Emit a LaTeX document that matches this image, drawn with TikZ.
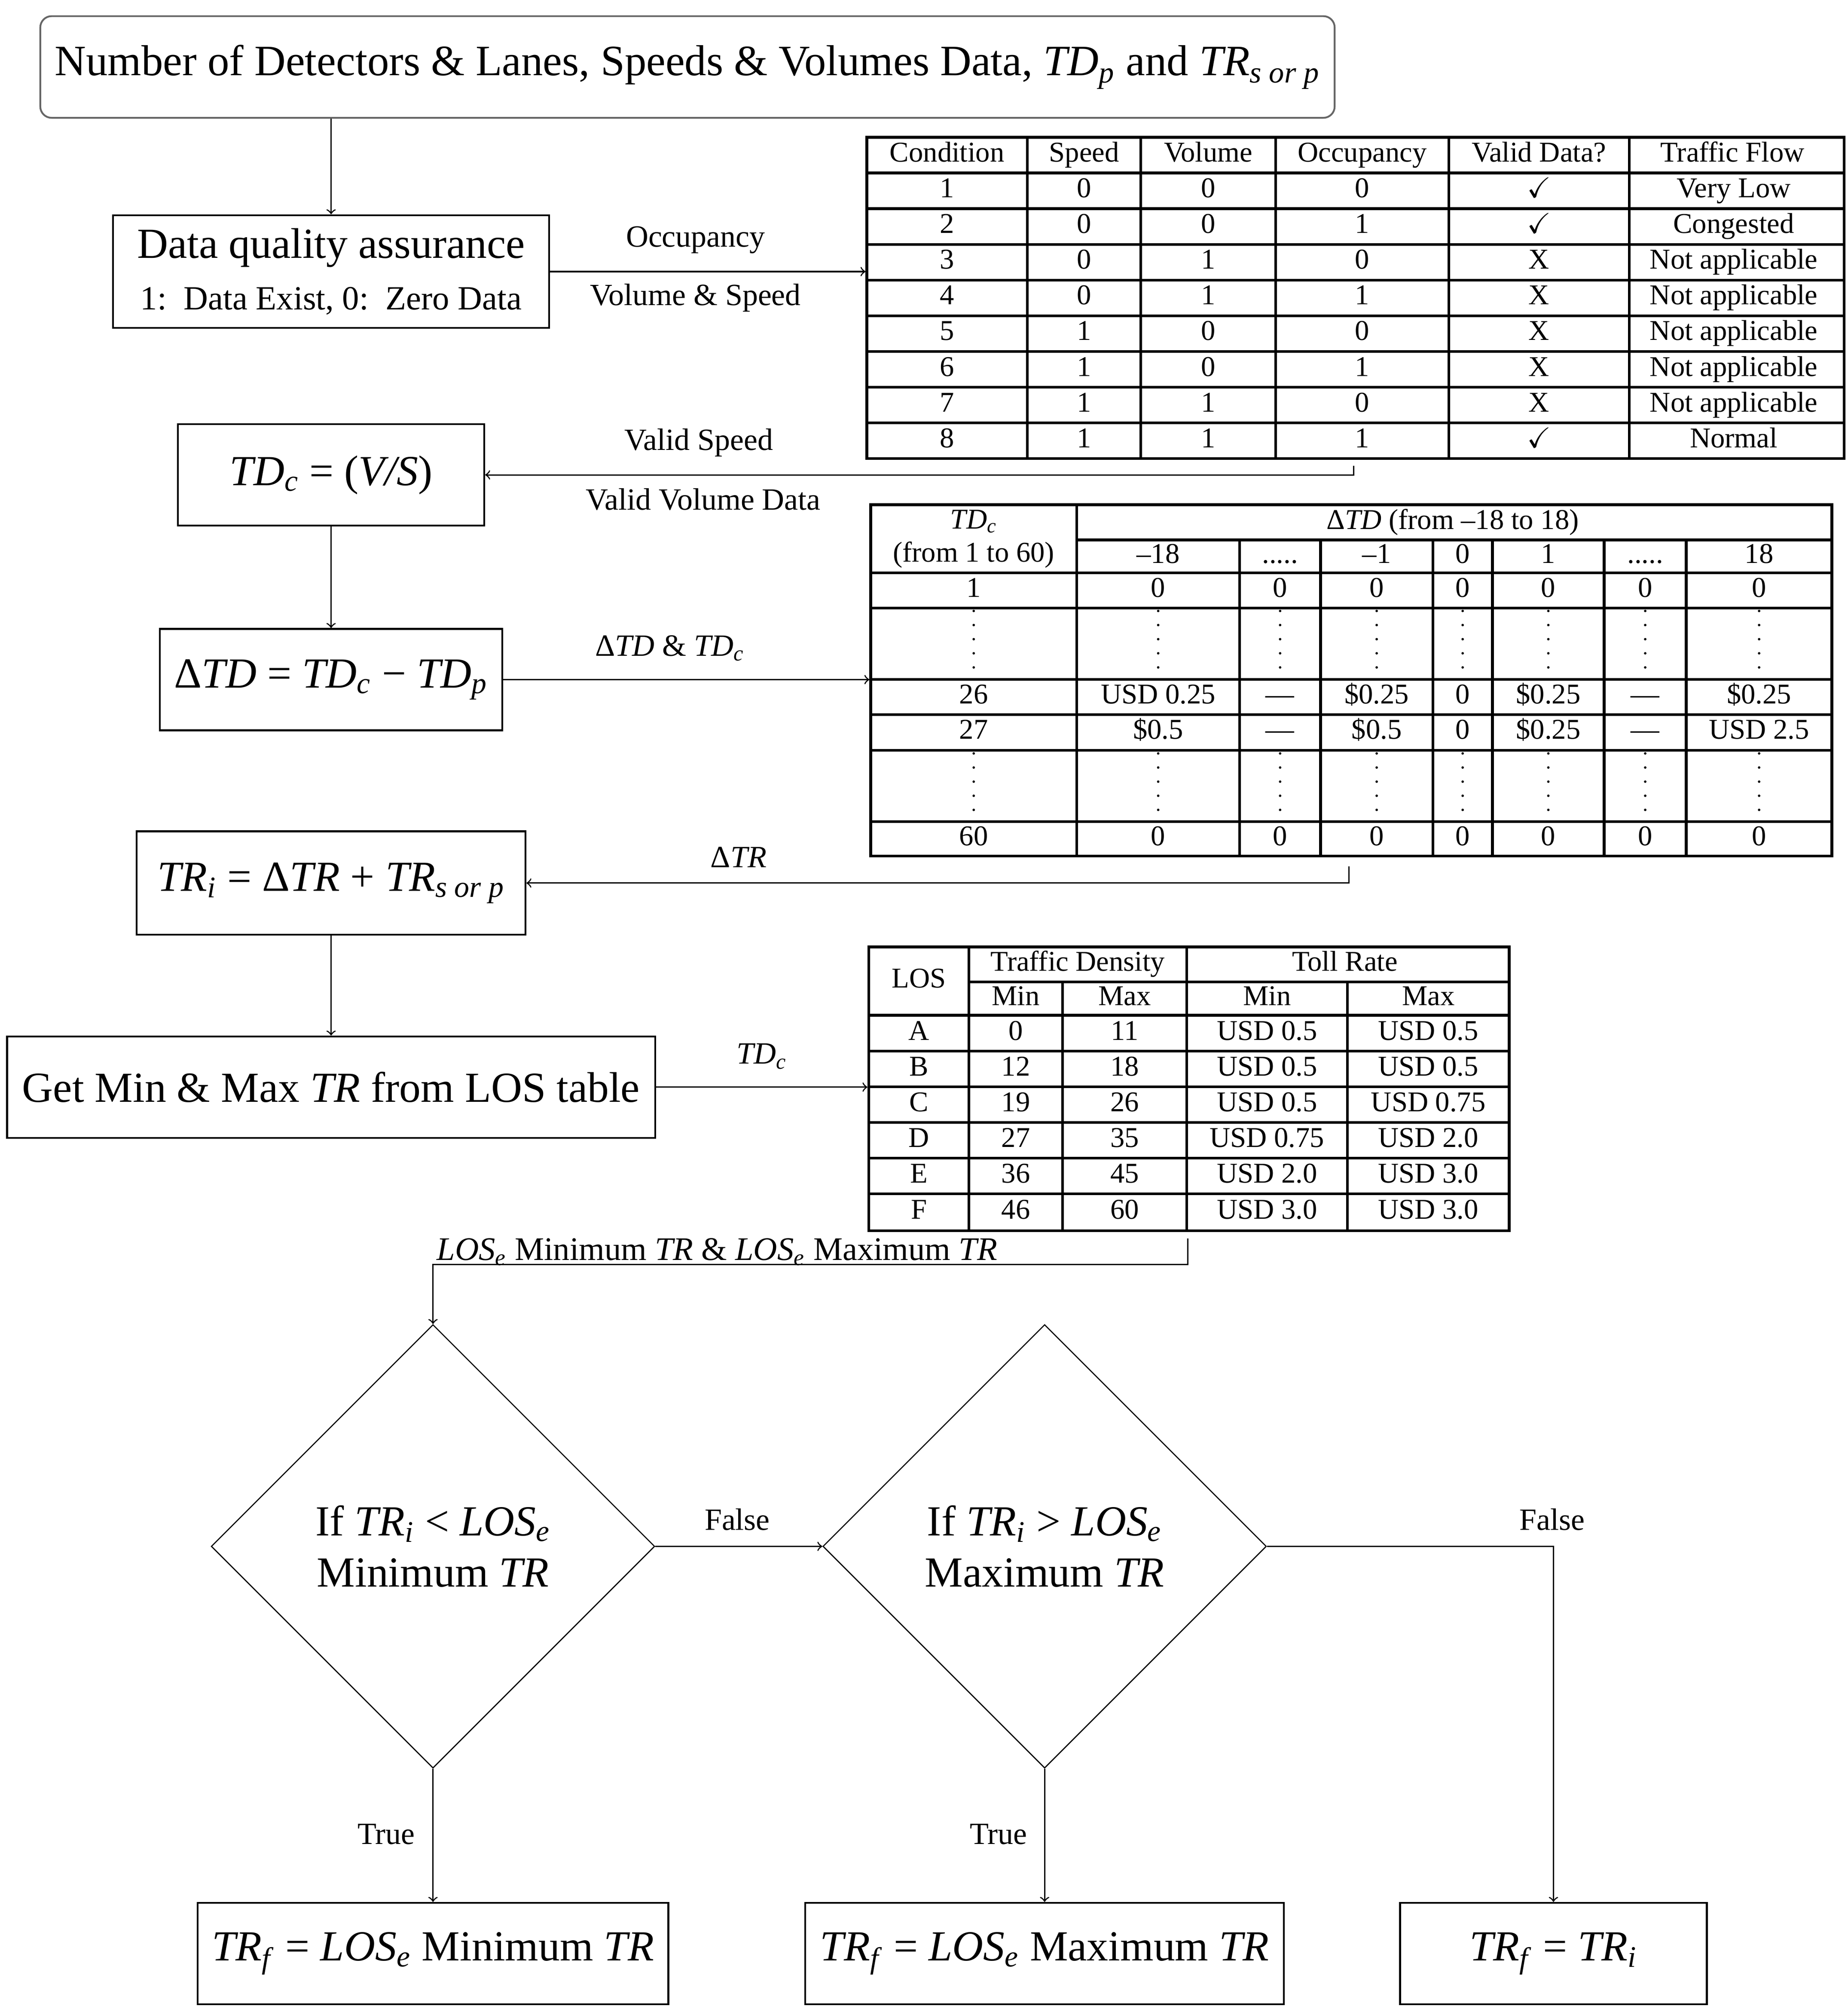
\documentclass[tikz,border=0pt]{standalone}
\usepackage{amssymb}
\usepackage{fontspec}
\setmainfont{Liberation Serif}
\usetikzlibrary{shapes.geometric,fit}

\newcommand\boxfont{\fontsize{19}{22.8}\selectfont}
\newcommand\lblfont{\fontsize{13.7}{16}\selectfont}
\newcommand\tabfont{\fontsize{12.7}{14.8}\selectfont}
\newcommand\cdts{.....}
\newcommand\itx[1]{\textit{#1}}
\newcommand\lowsub[1]{\textsubscript{\textit{#1}}}

\tikzset{
  procbox/.style 2 args={draw, line width=0.8pt, minimum width=#1*0.02cm, minimum height=#2*0.02cm, inner sep=0pt, align=center, font=\boxfont},
  decision/.style={diamond, draw, line width=0.5pt, aspect=1, minimum width=345.6*0.02cm, minimum height=345.6*0.02cm, inner sep=0pt, align=center, font=\boxfont},
  tabframe/.style={draw, line width=1.2pt, inner sep=0pt},
  tabline/.style={line width=1.2pt},
  cell/.style={inner sep=0pt, font=\tabfont, text height=8.6pt, text depth=2.6pt},
  headcell/.style={inner sep=0pt, font=\tabfont, align=center},
  lbl/.style={inner sep=0pt, font=\lblfont},
  conn/.style={->, line width=0.6pt}
}

\begin{document}
\begin{tikzpicture}[x=0.02cm, y=-0.02cm]
                \useasboundingbox (0,0) rectangle (1440,1567.6);
                \node[procbox={1008.6}{79.2}, rounded corners=5pt, draw=black!60, font=\fontsize{19.2}{22}\selectfont] (inputs) at (535.7,52.2) {Number of Detectors \& Lanes, Speeds \& Volumes Data, \itx{TD}\lowsub{p} and \itx{TR}\lowsub{s or p}};
                \node[procbox={339.9}{87.9}] (dqa) at (258,211.6) {Data quality assurance\\{\fontsize{15}{18}\selectfont 1:\ \ Data Exist, 0:\ \ Zero Data}};
                \node[procbox={238.7}{78.9}] (tdc) at (258,370) {\itx{TD}\lowsub{c} = (\itx{V/S})};
                \node[procbox={266.7}{79}] (dtd) at (258,529.5) {Δ\itx{TD} = \itx{TD}\lowsub{c} − \itx{TD}\lowsub{p}};
                \node[procbox={303}{80.6}] (tri) at (258,688) {\itx{TR}\lowsub{i} = Δ\itx{TR} + \itx{TR}\lowsub{s or p}};
                \node[procbox={504.9}{79}] (getlos) at (258,847) {Get Min \& Max \itx{TR} from LOS table};
                \node[decision] (chkmin) at (337.4,1204.8) {If \itx{TR}\lowsub{i} < \itx{LOS}\lowsub{e}\\Minimum \itx{TR}};
                \node[decision] (chkmax) at (814,1204.8) {If \itx{TR}\lowsub{i} > \itx{LOS}\lowsub{e}\\Maximum \itx{TR}};
                \node[procbox={366.8}{79}] (setmin) at (337.4,1522) {\itx{TR}\lowsub{f} = \itx{LOS}\lowsub{e} Minimum \itx{TR}};
                \node[procbox={373}{79}] (setmax) at (814,1522) {\itx{TR}\lowsub{f} = \itx{LOS}\lowsub{e} Maximum \itx{TR}};
                \node[procbox={239}{79}] (keep) at (1210.5,1522) {\itx{TR}\lowsub{f} = \itx{TR}\lowsub{i}};
                % condition table
                \node[tabframe, fit={(675.5,107) (1437,357.2)}] (condtab) {};
                \foreach \xx in {800.5,889,994,1129,1269.5}
                    \draw[tabline] (\xx,107) -- (\xx,357.2);
                \foreach \r in {1,...,8}
                    \draw[tabline] (675.5,{107+\r*27.8}) -- (1437,{107+\r*27.8});
                \foreach \txt/\xx [count=\c] in {Condition/738, Speed/844.75, Volume/941.5, Occupancy/1061.5, Valid Data?/1199.25, Traffic Flow/1350}
                    \node[cell] (cond-0-\c) at (\xx,120.9) {\txt};
                \foreach \cnd/\spd/\vol/\occ/\vld/\flw [count=\r] in {1/0/0/0/$\checkmark$/Very Low, 2/0/0/1/$\checkmark$/Congested, 3/0/1/0/X/Not applicable, 4/0/1/1/X/Not applicable, 5/1/0/0/X/Not applicable, 6/1/0/1/X/Not applicable, 7/1/1/0/X/Not applicable, 8/1/1/1/$\checkmark$/Normal}{
                    \node[cell] (cond-\r-1) at (738,{107+(\r+0.5)*27.8}) {\cnd};
                    \node[cell] (cond-\r-2) at (844.75,{107+(\r+0.5)*27.8}) {\spd};
                    \node[cell] (cond-\r-3) at (941.5,{107+(\r+0.5)*27.8}) {\vol};
                    \node[cell] (cond-\r-4) at (1061.5,{107+(\r+0.5)*27.8}) {\occ};
                    \node[cell] (cond-\r-5) at (1199.25,{107+(\r+0.5)*27.8}) {\vld};
                    \node[cell] (cond-\r-6) at (1351,{107+(\r+0.5)*27.8}) {\flw};
                }
                % toll change table
                \node[tabframe, fit={(678.5,393.2) (1427.5,667)}] (tdtab) {};
                \draw[tabline] (839,393.2) -- (839,667);
                \foreach \xx in {966,1029,1116.5,1163,1250,1314}
                    \draw[tabline] (\xx,420.7) -- (\xx,667);
                \draw[tabline] (839,420.7) -- (1427.5,420.7);
                \foreach \yy in {446.3,473.7,529.3,556.8,584.5,640.1}
                    \draw[tabline] (678.5,\yy) -- (1427.5,\yy);
                \node[headcell] (td-head) at (758.75,420) {\itx{TD}\lowsub{c}\\(from 1 to 60)};
                \node[cell] (td-range) at (1132,407) {Δ\itx{TD} (from \textendash18 to 18)};
                \foreach \txt/\xx [count=\c] in {\textendash18/902.5, \cdts/997.5, \textendash1/1072.75, 0/1139.75, 1/1206.5, \cdts/1282, 18/1370.75}
                    \node[cell] (td-0-\c) at (\xx,433.5) {\txt};
                \node[cell] (td-1-0) at (758.75,460) {1};
                \node[cell] (td-26-0) at (758.75,543) {26};
                \node[cell] (td-27-0) at (758.75,570.6) {27};
                \node[cell] (td-60-0) at (758.75,653.5) {60};
                \foreach \xx [count=\c] in {902.5,997.5,1072.75,1139.75,1206.5,1282,1370.75}{
                    \node[cell] (td-1-\c) at (\xx,460) {0};
                    \node[cell] (td-60-\c) at (\xx,653.5) {0};
                }
                \foreach \txt/\xx [count=\c] in {USD 0.25/902.5, \textemdash/997.5, \$0.25/1072.75, 0/1139.75, \$0.25/1206.5, \textemdash/1282, \$0.25/1370.75}
                    \node[cell] (td-26-\c) at (\xx,543) {\txt};
                \foreach \txt/\xx [count=\c] in {\$0.5/902.5, \textemdash/997.5, \$0.5/1072.75, 0/1139.75, \$0.25/1206.5, \textemdash/1282, USD 2.5/1370.75}
                    \node[cell] (td-27-\c) at (\xx,570.6) {\txt};
                \foreach \xx in {758.75,902.5,997.5,1072.75,1139.75,1206.5,1282,1370.75}
                    \foreach \yy in {476,487,498,509,520,587,598,609,620,631}
                        \fill (\xx,\yy) circle[radius=0.55pt];
                % LOS table
                \node[tabframe, fit={(677,737.8) (1176,959)}] (lostab) {};
                \draw[tabline] (755,737.8) -- (755,959);
                \draw[tabline] (924.7,737.8) -- (924.7,959);
                \foreach \xx in {828,1050}
                    \draw[tabline] (\xx,765) -- (\xx,959);
                \draw[tabline] (755,765) -- (1176,765);
                \foreach \yy in {791,819,846.7,874.5,902.3,930}
                    \draw[tabline] (677,\yy) -- (1176,\yy);
                \node[cell] (los-head) at (716,764.4) {LOS};
                \node[cell] (los-dens) at (839.85,751.4) {Traffic Density};
                \node[cell] (los-toll) at (1048,751.4) {Toll Rate};
                \foreach \txt/\xx [count=\c] in {Min/791.5, Max/876.35, Min/987.35, Max/1113}
                    \node[cell] (los-0-\c) at (\xx,778) {\txt};
                \foreach \los/\dmin/\dmax/\tmin/\tmax/\yy [count=\r] in {A/0/11/USD 0.5/USD 0.5/805, B/12/18/USD 0.5/USD 0.5/832.85, C/19/26/USD 0.5/USD 0.75/860.6, D/27/35/USD 0.75/USD 2.0/888.4, E/36/45/USD 2.0/USD 3.0/916.15, F/46/60/USD 3.0/USD 3.0/944.5}{
                    \node[cell] (los-\r-1) at (716,\yy) {\los};
                    \node[cell] (los-\r-2) at (791.5,\yy) {\dmin};
                    \node[cell] (los-\r-3) at (876.35,\yy) {\dmax};
                    \node[cell] (los-\r-4) at (987.35,\yy) {\tmin};
                    \node[cell] (los-\r-5) at (1113,\yy) {\tmax};
                }
                % connectors
                \coordinate (conddrop) at (1054.7,363);
                \coordinate (tddrop) at (1051,675);
                \coordinate (losdrop) at (925.5,965);
                \coordinate (losbend) at (925.5,985.3);
                \draw[conn] (inputs.south -| dqa.north) -- (dqa.north);
                \draw[conn] (dqa.east) -- (dqa.east -| condtab.west);
                \draw[conn] (conddrop) |- (tdc.east);
                \draw[conn] (tdc.south) -- (dtd.north);
                \draw[conn] (dtd.east) -- (dtd.east -| tdtab.west);
                \draw[conn] (tddrop) |- (tri.east);
                \draw[conn] (tri.south) -- (getlos.north);
                \draw[conn] (getlos.east) -- (getlos.east -| lostab.west);
                \draw[conn] (losdrop) -- (losbend) -| (chkmin.north);
                \draw[conn] (chkmin.east) -- (chkmax.west);
                \draw[conn] (chkmax.east) -| (keep.north);
                \draw[conn] (chkmin.south) -- (setmin.north);
                \draw[conn] (chkmax.south) -- (setmax.north);
                \node[lbl] (occlbl) at (542,187) {Occupancy};
                \node[lbl] (vslbl) at (542,232) {Volume \& Speed};
                \node[lbl] (vspdlbl) at (544.5,345) {Valid Speed};
                \node[lbl] (vvollbl) at (548,389) {Valid Volume Data};
                \node[lbl] (dtdlbl) at (522,505) {Δ\itx{TD} \& \itx{TD}\lowsub{c}};
                \node[lbl] (dtrlbl) at (575.5,668) {Δ\itx{TR}};
                \node[lbl] (tdclbl) at (593.5,823) {\itx{TD}\lowsub{c}};
                \node[lbl, anchor=base west, font=\fontsize{14.6}{17}\selectfont] (loslbl) at (340,982) {\itx{LOS}\lowsub{e} Minimum \itx{TR} \& \itx{LOS}\lowsub{e} Maximum \itx{TR}};
                \node[lbl] (falsemin) at (574.5,1184) {False};
                \node[lbl] (falsemax) at (1209.5,1184) {False};
                \node[lbl] (truemin) at (301,1429) {True};
                \node[lbl] (truemax) at (778,1429) {True};
\end{tikzpicture}
\end{document}
